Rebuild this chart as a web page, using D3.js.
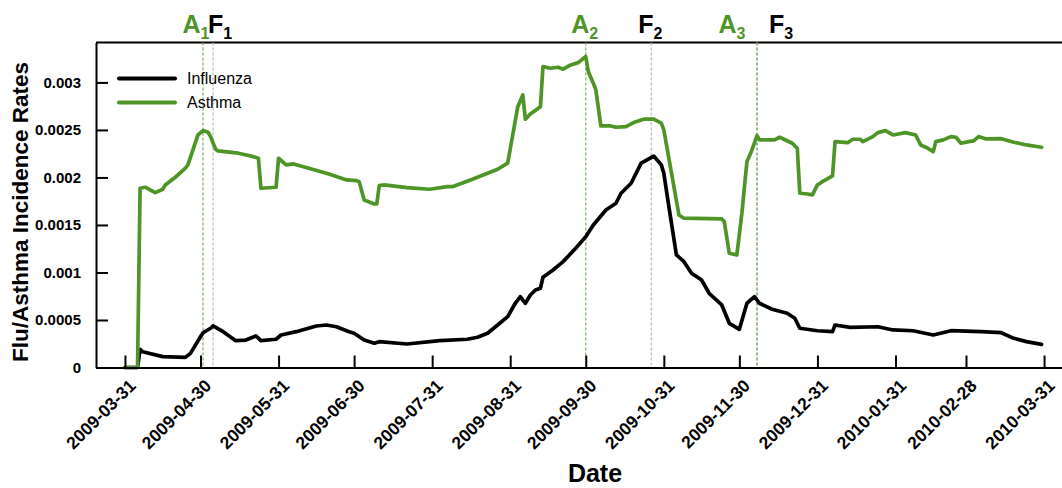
<!DOCTYPE html>
<html><head><meta charset="utf-8">
<script src="https://cdn.jsdelivr.net/npm/d3@7"></script>
<style>
body{margin:0;background:#fff}
svg{display:block}
text{font-family:"Liberation Sans",Arial,Helvetica,sans-serif}
</style>
</head><body>
<svg id="chart" width="1062" height="488"></svg>
<script>
// ---- data ----
const fluDates = ["2009-03-31","2009-04-05","2009-04-06","2009-04-07","2009-04-15","2009-04-24","2009-04-26","2009-04-30","2009-05-01","2009-05-04","2009-05-05","2009-05-09","2009-05-14","2009-05-18","2009-05-22","2009-05-24","2009-05-30","2009-06-01","2009-06-07","2009-06-15","2009-06-19","2009-06-23","2009-06-28","2009-06-30","2009-07-04","2009-07-08","2009-07-10","2009-07-21","2009-08-03","2009-08-14","2009-08-18","2009-08-22","2009-08-26","2009-08-30","2009-09-02","2009-09-04","2009-09-06","2009-09-08","2009-09-10","2009-09-12","2009-09-13","2009-09-17","2009-09-21","2009-09-26","2009-09-30","2009-10-03","2009-10-08","2009-10-12","2009-10-14","2009-10-18","2009-10-22","2009-10-27","2009-10-30","2009-10-31","2009-11-02","2009-11-05","2009-11-08","2009-11-11","2009-11-15","2009-11-18","2009-11-23","2009-11-26","2009-11-30","2009-12-03","2009-12-06","2009-12-08","2009-12-13","2009-12-19","2009-12-22","2009-12-24","2009-12-31","2010-01-06","2010-01-07","2010-01-13","2010-01-24","2010-01-30","2010-02-07","2010-02-15","2010-02-22","2010-03-06","2010-03-14","2010-03-19","2010-03-24","2010-03-30"];
const fluValues = [0,0,0.000192,0.000166,0.000114,0.000107,0.000149,0.000324,0.000366,0.000413,0.000437,0.000377,0.000282,0.000289,0.000332,0.000282,0.000297,0.000342,0.000377,0.000437,0.000447,0.000429,0.000377,0.00036,0.000289,0.000255,0.000272,0.000247,0.000282,0.000297,0.000318,0.00036,0.000447,0.000535,0.000676,0.000745,0.000676,0.000763,0.000816,0.000834,0.00095,0.001026,0.001114,0.001255,0.001377,0.0015,0.001658,0.001728,0.001834,0.001939,0.00215,0.002225,0.002132,0.002044,0.001693,0.001184,0.001114,0.000992,0.000921,0.000781,0.000658,0.000465,0.000402,0.000676,0.000745,0.000676,0.000613,0.000571,0.000518,0.000413,0.000387,0.000377,0.000447,0.000423,0.000429,0.000395,0.000387,0.000342,0.000387,0.000377,0.000366,0.000307,0.000272,0.000244];

const asthmaDates = ["2009-03-31","2009-04-05","2009-04-06","2009-04-08","2009-04-12","2009-04-15","2009-04-16","2009-04-20","2009-04-24","2009-04-25","2009-04-27","2009-04-29","2009-05-01","2009-05-03","2009-05-04","2009-05-06","2009-05-07","2009-05-15","2009-05-20","2009-05-23","2009-05-24","2009-05-30","2009-05-31","2009-06-03","2009-06-06","2009-06-12","2009-06-20","2009-06-27","2009-07-01","2009-07-02","2009-07-04","2009-07-08","2009-07-09","2009-07-10","2009-07-12","2009-07-21","2009-07-30","2009-08-06","2009-08-08","2009-08-16","2009-08-26","2009-08-30","2009-09-03","2009-09-05","2009-09-06","2009-09-08","2009-09-12","2009-09-13","2009-09-16","2009-09-19","2009-09-21","2009-09-24","2009-09-27","2009-09-30","2009-10-01","2009-10-03","2009-10-04","2009-10-06","2009-10-10","2009-10-12","2009-10-16","2009-10-19","2009-10-23","2009-10-27","2009-10-30","2009-10-31","2009-11-06","2009-11-08","2009-11-23","2009-11-24","2009-11-26","2009-11-29","2009-12-01","2009-12-03","2009-12-05","2009-12-07","2009-12-08","2009-12-14","2009-12-16","2009-12-21","2009-12-23","2009-12-24","2009-12-27","2009-12-29","2009-12-31","2010-01-02","2010-01-06","2010-01-07","2010-01-12","2010-01-14","2010-01-17","2010-01-18","2010-01-22","2010-01-24","2010-01-27","2010-01-30","2010-02-04","2010-02-08","2010-02-10","2010-02-12","2010-02-15","2010-02-16","2010-02-19","2010-02-22","2010-02-24","2010-02-26","2010-03-01","2010-03-03","2010-03-05","2010-03-08","2010-03-14","2010-03-19","2010-03-24","2010-03-30"];
const asthmaValues = [0,0,0.001886,0.001897,0.00184,0.001876,0.001921,0.002002,0.002097,0.002132,0.00229,0.002447,0.002493,0.002476,0.00243,0.002297,0.002279,0.002255,0.002226,0.002202,0.001886,0.001897,0.002202,0.002132,0.002142,0.002097,0.002037,0.001974,0.001966,0.001956,0.001763,0.001721,0.001721,0.001914,0.001921,0.001893,0.001876,0.001903,0.001903,0.001981,0.002086,0.00215,0.002745,0.002868,0.002613,0.002668,0.002745,0.003166,0.003149,0.00316,0.003139,0.003184,0.003208,0.003272,0.003114,0.002992,0.002921,0.002542,0.002542,0.002528,0.002535,0.002577,0.002613,0.002613,0.002571,0.0025,0.001605,0.001571,0.001563,0.001535,0.001202,0.001184,0.001623,0.002166,0.002289,0.00244,0.002395,0.002395,0.002423,0.00236,0.002307,0.001834,0.001826,0.001816,0.001921,0.001956,0.002016,0.002377,0.002366,0.002402,0.002402,0.002377,0.00243,0.002472,0.002493,0.002447,0.002472,0.002447,0.002342,0.002318,0.002272,0.002377,0.002395,0.00243,0.002423,0.00236,0.002377,0.002384,0.00243,0.002405,0.002408,0.002371,0.002342,0.002318];

const xTickLabels = ["2009-03-31","2009-04-30","2009-05-31","2009-06-30","2009-07-31","2009-08-31","2009-09-30","2009-10-31","2009-11-30","2009-12-31","2010-01-31","2010-02-28","2010-03-31"];
const yTickValues = [0,0.0005,0.001,0.0015,0.002,0.0025,0.003];
const yTickLabels = ["0","0.0005","0.001","0.0015","0.002","0.0025","0.003"];

const markerLetters = ["A","F","A","F","A","F"];
const markerSubs = ["1","1","2","2","3","3"];
const markerDates = ["2009-05-01","2009-05-05","2009-09-30","2009-10-26","2009-12-07","2009-12-07"];

const seriesNames = ["Influenza","Asthma"];

// ---- styles / layout ----
const GREEN = "#4c9526";
const seriesColors = [ "#000000", GREEN ];
const labelShift = [-7, 7, -1, -1, -25, 24];
const plotL = 96, plotR = 1062, plotT = 42.5, plotB = 367.5;

const parse = d3.utcParse("%Y-%m-%d");
const svg = d3.select("#chart");

const x = d3.scaleUtc()
  .domain([new Date(Date.UTC(2009,2,19,12)), new Date(Date.UTC(2010,3,7,3))])
  .range([plotL, plotR]);
const y = d3.scaleLinear().domain([0, 0.00342]).range([plotB, plotT]);

// top border
svg.append("line").attr("x1", plotL).attr("x2", plotR).attr("y1", plotT).attr("y2", plotT)
  .attr("stroke", "#000").attr("stroke-width", 2);

// marker dashed lines (gray F first, green A on top)
const markers = markerDates.map((d,i)=>({date:parse(d), letter:markerLetters[i], sub:markerSubs[i], shift:labelShift[i]}));
const order = markers.slice().sort((a,b)=> (a.letter==="A") - (b.letter==="A"));
svg.append("g").selectAll("line").data(order).join("line")
  .attr("x1", d=>x(d.date)).attr("x2", d=>x(d.date))
  .attr("y1", plotT).attr("y2", plotB)
  .attr("stroke", d=> d.letter==="A" ? "#6aa84f" : "#b3b3b3")
  .attr("stroke-width", 1.1)
  .attr("stroke-dasharray", "3,2");

// marker labels
const lab = svg.append("g").selectAll("text").data(markers).join("text")
  .attr("x", d=>x(d.date) + d.shift).attr("y", 33)
  .attr("text-anchor", "middle")
  .attr("font-weight", "bold").attr("font-size", 25)
  .attr("fill", d=> d.letter==="A" ? GREEN : "#000");
lab.append("tspan").text(d=>d.letter);
lab.append("tspan").attr("font-size", 16).attr("dy", 6).text(d=>d.sub);

// series lines
const line = d3.line().x(d=>x(d.date)).y(d=>y(d.value));
const series = [
  fluDates.map((d,i)=>({date:parse(d), value:fluValues[i]})),
  asthmaDates.map((d,i)=>({date:parse(d), value:asthmaValues[i]}))
];
svg.append("g").selectAll("path").data(series).join("path")
  .attr("d", line)
  .attr("fill", "none")
  .attr("stroke", (d,i)=>seriesColors[i])
  .attr("stroke-width", 3.7)
  .attr("stroke-linejoin", "round")
  .attr("stroke-linecap", "round");

// axes
const xAxis = d3.axisBottom(x)
  .tickValues(xTickLabels.map(parse))
  .tickFormat(d3.utcFormat("%Y-%m-%d"))
  .tickSizeInner(-12).tickSizeOuter(0);
const gx = svg.append("g").attr("transform", `translate(0,${plotB})`).call(xAxis);
gx.select(".domain").attr("stroke-width", 2);
gx.selectAll(".tick line").attr("stroke-width", 2);
gx.selectAll(".tick text")
  .attr("x", 0).attr("y", 0).attr("dy", "0.35em")
  .attr("transform", "translate(7,15) rotate(-45)")
  .attr("text-anchor", "end")
  .attr("font-family", "Liberation Sans, Arial, sans-serif")
  .attr("font-size", 17.5).attr("font-weight", "bold").attr("fill", "#000");

const yAxis = d3.axisLeft(y)
  .tickValues(yTickValues)
  .tickFormat((d,i)=>yTickLabels[i])
  .tickSizeInner(-12).tickSizeOuter(0).tickPadding(15);
const gy = svg.append("g").attr("transform", `translate(${plotL},0)`).call(yAxis);
gy.select(".domain").attr("stroke-width", 2);
gy.selectAll(".tick line").attr("stroke-width", 2);
gy.selectAll(".tick text")
  .attr("font-family", "Liberation Sans, Arial, sans-serif")
  .attr("font-size", 15).attr("font-weight", "bold").attr("fill", "#000");

// axis titles
svg.append("text").attr("x", 595).attr("y", 482).attr("text-anchor", "middle")
  .attr("font-size", 25).attr("font-weight", "bold").text("Date");
svg.append("text").attr("transform", "translate(28,212) rotate(-90)").attr("text-anchor", "middle")
  .attr("font-size", 22.5).attr("font-weight", "bold").text("Flu/Asthma Incidence Rates");

// legend
const lg = svg.append("g").selectAll("g").data(seriesNames).join("g")
  .attr("transform", (d,i)=>`translate(0,${78.5 + i*24})`);
lg.append("line").attr("x1", 119).attr("x2", 175).attr("y1", 0).attr("y2", 0)
  .attr("stroke", (d,i)=>seriesColors[i]).attr("stroke-width", 4).attr("stroke-linecap", "round");
lg.append("text").attr("x", 187).attr("y", 0).attr("dy", "0.36em")
  .attr("font-size", 16).text(d=>d);
</script>
</body></html>
